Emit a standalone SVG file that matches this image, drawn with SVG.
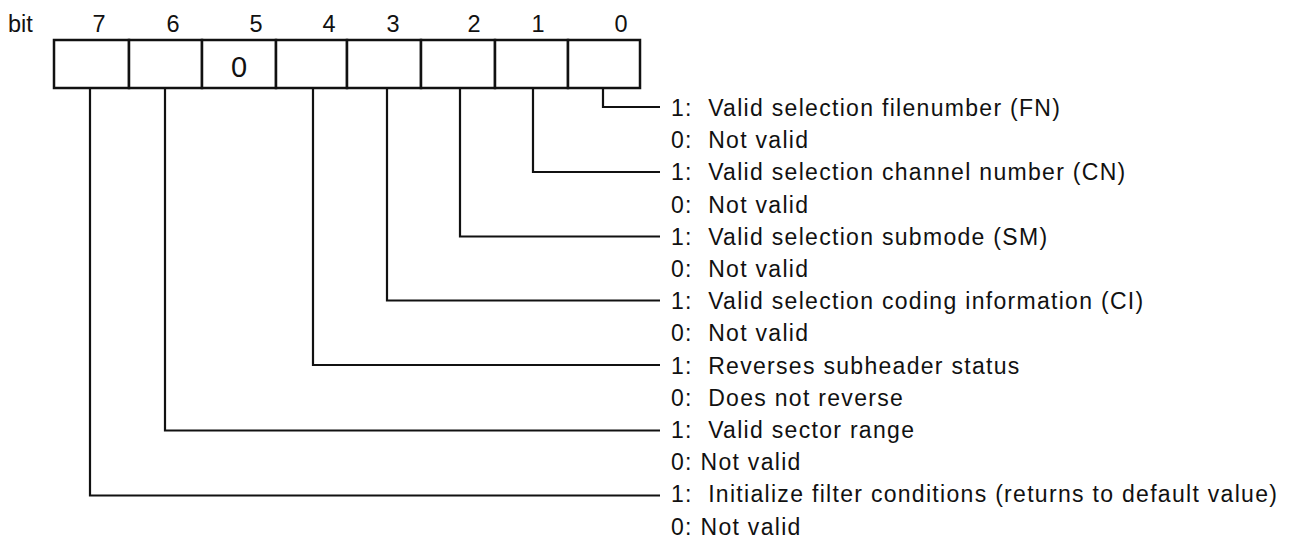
<svg xmlns="http://www.w3.org/2000/svg" width="1299" height="541" viewBox="0 0 1299 541">
<style>
text{font-family:"Liberation Sans",Arial,sans-serif;fill:#111}
.bitn{font-size:23.5px;text-anchor:middle}
.lbl{font-size:23px;letter-spacing:1.3px}
.cell{fill:#fff;stroke:#111;stroke-width:2.5}
.conn{fill:none;stroke:#111;stroke-width:2.2}
</style>
<rect width="1299" height="541" fill="#fff"/>
<g id="header">
<text x="8" y="32" style="font-size:23.5px">bit</text>
<text class="bitn" x="99" y="32">7</text>
<text class="bitn" x="173" y="32">6</text>
<text class="bitn" x="256" y="32">5</text>
<text class="bitn" x="329" y="32">4</text>
<text class="bitn" x="393" y="32">3</text>
<text class="bitn" x="474" y="32">2</text>
<text class="bitn" x="538" y="32">1</text>
<text class="bitn" x="621" y="32">0</text>
</g>
<g id="register">
<rect id="bit7" class="cell" x="54" y="40" width="75" height="48"/>
<rect id="bit6" class="cell" x="129" y="40" width="73" height="48"/>
<g id="bit5"><rect class="cell" x="202" y="40" width="74" height="48"/><text x="239" y="77" style="font-size:29px" text-anchor="middle">0</text></g>
<rect id="bit4" class="cell" x="276" y="40" width="71" height="48"/>
<rect id="bit3" class="cell" x="347" y="40" width="74" height="48"/>
<rect id="bit2" class="cell" x="421" y="40" width="74" height="48"/>
<rect id="bit1" class="cell" x="495" y="40" width="73" height="48"/>
<rect id="bit0" class="cell" x="568" y="40" width="72" height="48"/>
</g>
<g id="connectors">
<polyline class="conn" points="603,88 603,107 660,107"/>
<polyline class="conn" points="533,88 533,172 660,172"/>
<polyline class="conn" points="460,88 460,236.5 660,236.5"/>
<polyline class="conn" points="387,88 387,300.5 660,300.5"/>
<polyline class="conn" points="313,88 313,365 660,365"/>
<polyline class="conn" points="165,88 165,430.5 660,430.5"/>
<polyline class="conn" points="90,88 90,495.5 660,495.5"/>
</g>
<g id="labels">
<text class="lbl" x="671" y="116" xml:space="preserve">1:  Valid selection filenumber (FN)</text>
<text class="lbl" x="671" y="148.2" xml:space="preserve">0:  Not valid</text>
<text class="lbl" x="671" y="180.4" xml:space="preserve">1:  Valid selection channel number (CN)</text>
<text class="lbl" x="671" y="212.6" xml:space="preserve">0:  Not valid</text>
<text class="lbl" x="671" y="244.8" xml:space="preserve">1:  Valid selection submode (SM)</text>
<text class="lbl" x="671" y="277" xml:space="preserve">0:  Not valid</text>
<text class="lbl" x="671" y="309.2" xml:space="preserve">1:  Valid selection coding information (CI)</text>
<text class="lbl" x="671" y="341.4" xml:space="preserve">0:  Not valid</text>
<text class="lbl" x="671" y="373.6" xml:space="preserve">1:  Reverses subheader status</text>
<text class="lbl" x="671" y="405.8" xml:space="preserve">0:  Does not reverse</text>
<text class="lbl" x="671" y="438" xml:space="preserve">1:  Valid sector range</text>
<text class="lbl" x="671" y="470.2">0: Not valid</text>
<text class="lbl" x="671" y="502.4" xml:space="preserve">1:  Initialize filter conditions (returns to default value)</text>
<text class="lbl" x="671" y="534.6">0: Not valid</text>
</g>
</svg>
